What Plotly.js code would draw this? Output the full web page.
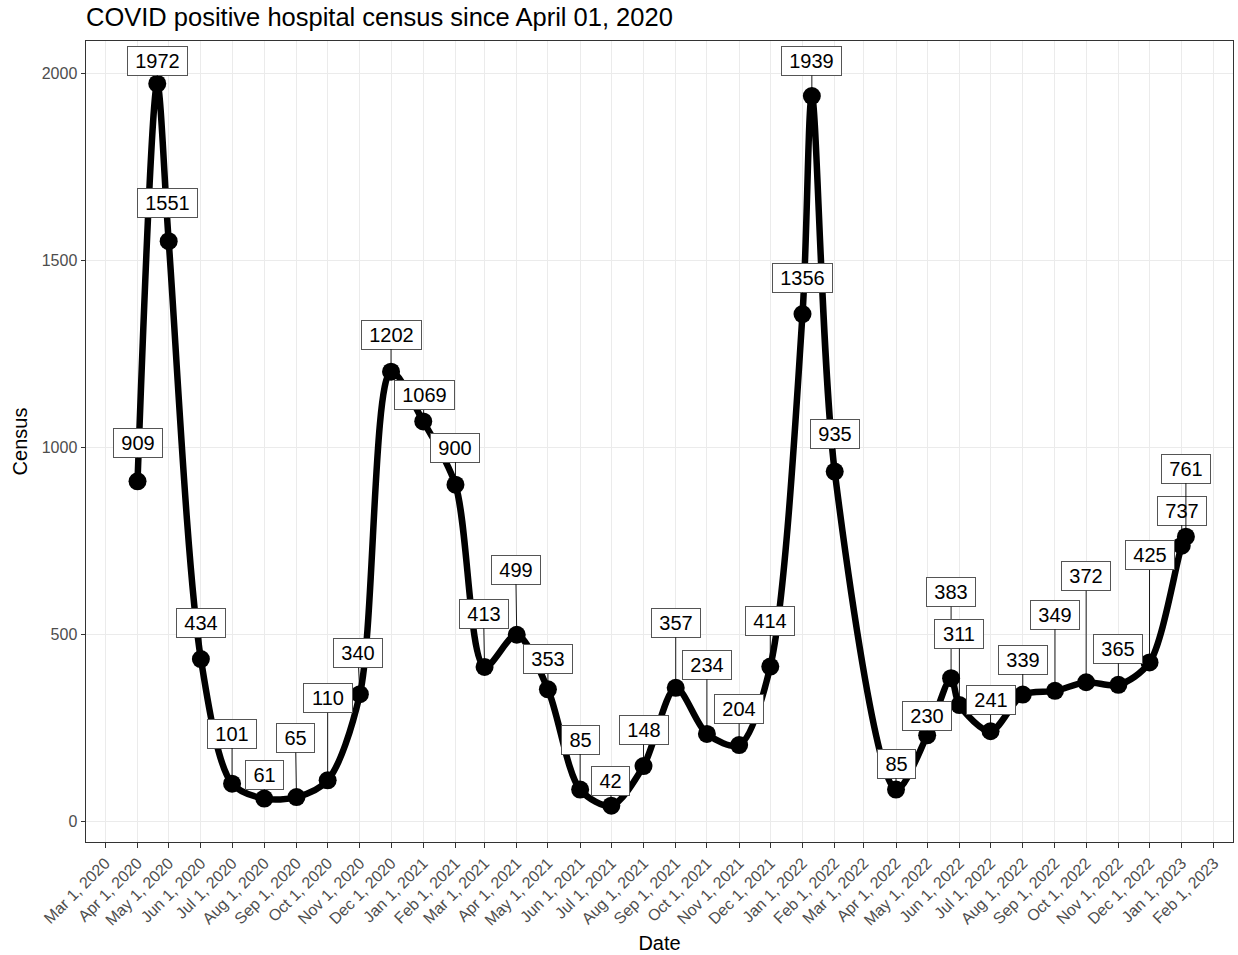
<!DOCTYPE html>
<html><head><meta charset="utf-8">
<script src="https://cdn.plot.ly/plotly-3.0.1.min.js"></script>
<style>html,body{margin:0;padding:0;background:#fff}#chart{width:1238px;height:955px}</style>
</head><body><div id="chart"></div>
<script>
const dates = ['2020-04-01','2020-04-20','2020-05-01','2020-06-01','2020-07-01','2020-08-01','2020-09-01','2020-10-01','2020-11-01','2020-12-01',
  '2021-01-01','2021-02-01','2021-03-01','2021-04-01','2021-05-01','2021-06-01','2021-07-01','2021-08-01','2021-09-01','2021-10-01',
  '2021-11-01','2021-12-01','2022-01-01','2022-01-10','2022-02-01','2022-04-01','2022-05-01','2022-05-24','2022-06-01','2022-07-01',
  '2022-08-01','2022-09-01','2022-10-01','2022-11-01','2022-12-01','2023-01-01','2023-01-05'];
const census = [909,1972,1551,434,101,61,65,110,340,1202,
  1069,900,413,499,353,85,42,148,357,234,
  204,414,1356,1939,935,85,230,383,311,241,
  339,349,372,365,425,737,761];
// label placement offsets (pixels, label centre relative to point)
const labelDx = [0,0,-1,0,0,0,-1,0,-2,0, 1,0,-1,-1,0,0,-1,0,0,0, 0,0,0,0,0,0,0,0,0,0, 0,0,0,0,0,0,0];
const labelDy = [-38,-23,-38,-36,-50,-24,-59,-82,-41,-37, -26,-37,-53,-65,-30,-50,-25,-36,-65,-69,
  -36,-46,-36,-35,-38,-26,-19,-86,-71,-31, -35,-76,-106,-36,-107,-35,-68];
const monthTick0 = '2020-03-01';
const yTicks = [0,500,1000,1500,2000];

const FONT = 'Liberation Sans, Arial, sans-serif';

const trace = {
  x: dates, y: census, type: 'scatter', mode: 'lines+markers',
  line: {color: '#000', width: 6.5, shape: 'spline', smoothing: 0.85},
  marker: {color: '#000', size: 18},
  hoverinfo: 'x+y'
};

const annotations = census.map((v, i) => {
  const t = String(v);
  return {
    x: dates[i], y: v, xref: 'x', yref: 'y', text: t,
    showarrow: true, arrowhead: 0, arrowwidth: 0.9, arrowcolor: '#000', standoff: 0,
    ax: labelDx[i], ay: labelDy[i], axref: 'pixel', ayref: 'pixel',
    bgcolor: '#fff', bordercolor: '#555', borderwidth: 1, borderpad: 2,
    width: 11 * t.length + 11, height: 24,
    font: {family: FONT, size: 20, color: '#000'}
  };
});

const layout = {
  width: 1238, height: 955,
  paper_bgcolor: '#fff', plot_bgcolor: '#fff',
  margin: {l: 86, r: 5, t: 41, b: 113},
  font: {family: FONT},
  showlegend: false,
  title: {text: 'COVID positive hospital census since April 01, 2020',
    font: {family: FONT, size: 25.5, color: '#000'},
    xref: 'container', x: 86/1238, xanchor: 'left',
    yref: 'container', y: 1 - 17/955, yanchor: 'middle'},
  xaxis: {
    type: 'date', range: ['2020-02-11 10:00', '2023-02-19 08:00'],
    tick0: monthTick0, dtick: 'M1', tickformat: '%b %-d, %Y', tickangle: -45,
    ticks: 'outside', ticklen: 4.5, tickwidth: 1, tickcolor: '#333',
    tickfont: {family: FONT, size: 16, color: '#4D4D4D'},
    showgrid: true, gridcolor: '#EBEBEB', gridwidth: 1.2,
    showline: true, linecolor: '#333', linewidth: 1, mirror: true, zeroline: false,
    automargin: false,
    title: {text: 'Date', font: {family: FONT, size: 20, color: '#000'}, standoff: 8}
  },
  yaxis: {
    range: [-55, 2086], tickvals: yTicks, ticktext: yTicks.map(String),
    ticks: 'outside', ticklen: 4.5, tickwidth: 1, tickcolor: '#333',
    tickfont: {family: FONT, size: 16, color: '#4D4D4D'},
    showgrid: true, gridcolor: '#EBEBEB', gridwidth: 1.2,
    showline: true, linecolor: '#333', linewidth: 1, mirror: true, zeroline: false,
    automargin: false,
    title: {text: 'Census', font: {family: FONT, size: 20, color: '#000'}, standoff: 8}
  },
  annotations: annotations
};

Plotly.newPlot('chart', [trace], layout, {displayModeBar: false});
</script>
</body></html>
